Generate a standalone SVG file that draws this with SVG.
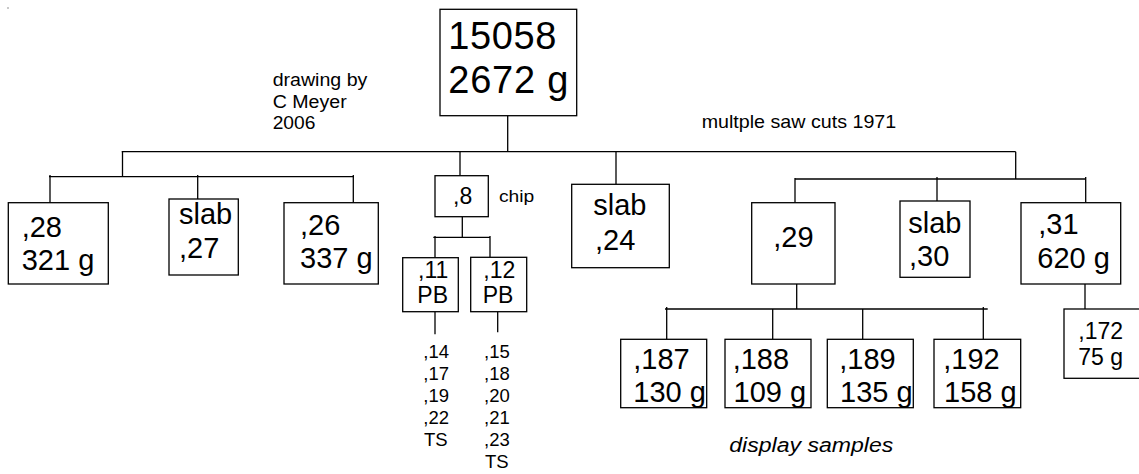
<svg xmlns="http://www.w3.org/2000/svg" width="1139" height="474" viewBox="0 0 1139 474">
<style>
text{font-family:"Liberation Sans",Arial,sans-serif;fill:#000}
.box{fill:#fff;stroke:#000;stroke-width:1.3}
.c line{stroke:#000;stroke-width:1.3}
.xl{font-size:38px}
.l{font-size:29px}
.m{font-size:23px}
.s{font-size:18.5px}
.n{font-size:17.5px}
</style>
<rect width="1139" height="474" fill="#fff"/>
<circle cx="8" cy="8" r="0.7" fill="#666"/>
<g class="c" id="connectors">
<line x1="507.7" y1="115.7" x2="507.7" y2="151.7"/>
<line x1="121.7" y1="151.7" x2="1015.7" y2="151.7"/>
<line x1="122.5" y1="151.7" x2="122.5" y2="177"/>
<line x1="49" y1="176.7" x2="354" y2="176.7"/>
<line x1="50" y1="175" x2="50" y2="202.7"/>
<line x1="197.7" y1="175" x2="197.7" y2="199"/>
<line x1="353.3" y1="175" x2="353.3" y2="202.7"/>
<line x1="460" y1="151.7" x2="460" y2="175.7"/>
<line x1="616" y1="151.7" x2="616" y2="184.3"/>
<line x1="1015.7" y1="151.7" x2="1015.7" y2="179"/>
<line x1="795" y1="179" x2="1086" y2="179"/>
<line x1="795" y1="178" x2="795" y2="202.7"/>
<line x1="937" y1="177" x2="937" y2="201"/>
<line x1="1085.7" y1="177" x2="1085.7" y2="202.7"/>
<line x1="462.3" y1="216.7" x2="462.3" y2="237.3"/>
<line x1="433.3" y1="237.3" x2="490" y2="237.3"/>
<line x1="435" y1="236" x2="435" y2="257.7"/>
<line x1="490" y1="236" x2="490" y2="257.3"/>
<line x1="435" y1="311.7" x2="435" y2="334.3"/>
<line x1="497.7" y1="311.7" x2="497.7" y2="332.3"/>
<line x1="796.7" y1="284" x2="796.7" y2="309"/>
<line x1="665" y1="309" x2="987.7" y2="309"/>
<line x1="666.7" y1="307" x2="666.7" y2="339.3"/>
<line x1="772.7" y1="309" x2="772.7" y2="339.3"/>
<line x1="862.7" y1="309" x2="862.7" y2="339.3"/>
<line x1="983.3" y1="307" x2="983.3" y2="339.3"/>
<line x1="1085" y1="284" x2="1085" y2="309"/>
</g>
<g id="root"><rect class="box" x="440" y="9.3" width="136.7" height="106.4"/>
<text class="xl" x="448.3" y="49.3" textLength="108">15058</text>
<text class="xl" x="448.3" y="93.3" textLength="120">2672 g</text></g>
<g id="note-drawing"><text class="n" x="272.7" y="86" textLength="94.7" lengthAdjust="spacingAndGlyphs">drawing by</text>
<text class="n" x="272.7" y="107.7" textLength="74" lengthAdjust="spacingAndGlyphs">C Meyer</text>
<text class="n" x="272.7" y="129" textLength="42.7" lengthAdjust="spacingAndGlyphs">2006</text></g>
<g id="note-saw"><text class="n" x="701.7" y="128.3" font-size="18.5" style="font-size:18.5px" textLength="194.5" lengthAdjust="spacingAndGlyphs">multple saw cuts 1971</text></g>
<g id="n28"><rect class="box" x="8.3" y="202.7" width="100" height="81.3"/>
<text class="l" x="21.7" y="237">,28</text><text class="l" x="21.7" y="270">321 g</text></g>
<g id="n27"><rect class="box" x="169" y="199" width="69.3" height="76"/>
<text class="l" x="179" y="224">slab</text><text class="l" x="179" y="258">,27</text></g>
<g id="n26"><rect class="box" x="284" y="202.7" width="94.3" height="81.3"/>
<text class="l" x="300" y="235">,26</text><text class="l" x="300" y="268">337 g</text></g>
<g id="n8"><rect class="box" x="435" y="175.7" width="53.3" height="41"/>
<text class="m" x="453" y="204">,8</text></g>
<g id="note-chip"><text class="n" x="499" y="201.7" style="font-size:17px" textLength="35.3" lengthAdjust="spacingAndGlyphs">chip</text></g>
<g id="n11"><rect class="box" x="402.7" y="257.7" width="55.6" height="54"/>
<text class="m" x="418" y="278.3">,11</text><text class="m" x="417.3" y="302.7">PB</text></g>
<g id="n12"><rect class="box" x="470.7" y="257.3" width="56" height="54.4"/>
<text class="m" x="483.3" y="278.3">,12</text><text class="m" x="482.7" y="302.7">PB</text></g>
<g id="list11"><text class="s" x="423.3" y="358.3">,14</text><text class="s" x="423.3" y="380">,17</text><text class="s" x="423.3" y="401.7">,19</text><text class="s" x="423.3" y="424">,22</text><text class="s" x="424" y="445.7">TS</text></g>
<g id="list12"><text class="s" x="484" y="358.3">,15</text><text class="s" x="484" y="380">,18</text><text class="s" x="484" y="401.7">,20</text><text class="s" x="484" y="424">,21</text><text class="s" x="484" y="445.7">,23</text><text class="s" x="485" y="467.5">TS</text></g>
<g id="n24"><rect class="box" x="571.7" y="184.3" width="97.6" height="83.4"/>
<text class="l" x="593.3" y="215">slab</text><text class="l" x="595" y="250">,24</text></g>
<g id="n29"><rect class="box" x="751.7" y="202.7" width="83.3" height="81.3"/>
<text class="l" x="773.3" y="247.3">,29</text></g>
<g id="n30"><rect class="box" x="900" y="201" width="70" height="76.3"/>
<text class="l" x="908.3" y="232.7">slab</text><text class="l" x="909" y="266">,30</text></g>
<g id="n31"><rect class="box" x="1021" y="202.7" width="99.7" height="81.3"/>
<text class="l" x="1038.3" y="234">,31</text><text class="l" x="1037.3" y="267.7">620 g</text></g>
<g id="n187"><rect class="box" x="620.7" y="339.3" width="86" height="68.4"/>
<text class="l" x="633.3" y="369">,187</text><text class="l" x="633.3" y="401.7">130 g</text></g>
<g id="n188"><rect class="box" x="725" y="339.3" width="86" height="68.4"/>
<text class="l" x="732.7" y="369">,188</text><text class="l" x="733.5" y="401.7">109 g</text></g>
<g id="n189"><rect class="box" x="827.3" y="339.3" width="86" height="68.4"/>
<text class="l" x="839.3" y="369">,189</text><text class="l" x="840" y="401.7">135 g</text></g>
<g id="n192"><rect class="box" x="934" y="339.3" width="86.7" height="68.4"/>
<text class="l" x="943.3" y="369">,192</text><text class="l" x="944" y="401.7">158 g</text></g>
<g id="n172"><rect class="box" x="1064" y="309" width="90" height="69.3"/>
<text class="m" x="1078.3" y="339">,172</text><text class="m" x="1078.3" y="365">75 g</text></g>
<g id="note-display"><text x="729.3" y="451.7" style="font-size:20px;font-style:italic" textLength="164" lengthAdjust="spacingAndGlyphs">display samples</text></g>
</svg>
